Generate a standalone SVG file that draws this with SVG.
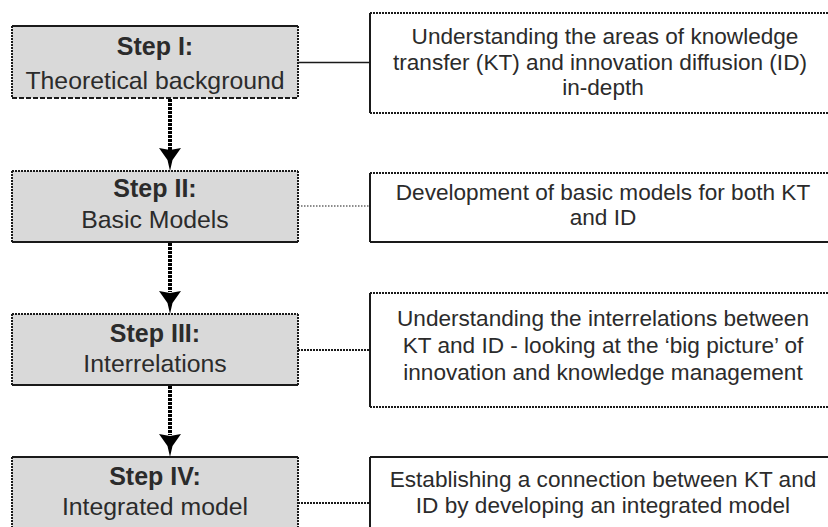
<svg xmlns="http://www.w3.org/2000/svg" width="828" height="527" viewBox="0 0 828 527">
  <defs>
    <style>
      .step { fill:#d9d9d9; }
      .desc { fill:#ffffff; }
      .solid { stroke:#1a1a1a; stroke-width:2; fill:none; }
      .dot { stroke:#1a1a1a; stroke-width:2; stroke-dasharray:2 1; fill:none; }
      .dash { stroke:#1a1a1a; stroke-width:2; stroke-dasharray:5 2; fill:none; }
      .thin { stroke:#1a1a1a; stroke-width:1.5; fill:none; }
      .thindot { stroke:#1a1a1a; stroke-width:1.2; stroke-dasharray:1.5 1.5; fill:none; }
      .thickdot { stroke:#1a1a1a; stroke-width:2; stroke-dasharray:2 1; fill:none; }
      .arrow { stroke:#000; stroke-width:4; stroke-dasharray:3 1; fill:none; }
      .head { fill:#000; }
      text { font-family:"Liberation Sans", Arial, sans-serif; fill:#2b2b2b; text-anchor:middle; }
      .h { font-weight:bold; font-size:25px; }
      .s { font-size:24.8px; }
      .r { font-size:22.6px; }
    </style>
  </defs>

  <g id="connectors">
    <line class="thin" x1="298" y1="62.5" x2="370" y2="62.5"/>
    <line class="thindot" x1="298" y1="206" x2="370" y2="206"/>
    <line class="thickdot" x1="298" y1="350" x2="370" y2="350"/>
    <line class="thickdot" x1="298" y1="503" x2="370" y2="503"/>
    <line class="arrow" x1="170" y1="99" x2="170" y2="150"/>
    <line class="arrow" x1="170" y1="243" x2="170" y2="292"/>
    <line class="arrow" x1="170" y1="386" x2="170" y2="435"/>
    <path class="head" d="M159,148 L170,150 L181,148 L172.5,160 L170,171 L167.5,160 Z"/>
    <path class="head" d="M159,291 L170,293 L181,291 L172.5,303 L170,314 L167.5,303 Z"/>
    <path class="head" d="M159,434 L170,436 L181,434 L172.5,446 L170,457 L167.5,446 Z"/>
  </g>

  <g id="step1">
    <rect class="step" x="12" y="26" width="286" height="72"/>
    <line class="solid" x1="12" y1="26" x2="298" y2="26"/>
    <line class="dot" x1="12" y1="26" x2="12" y2="98"/>
    <line class="dot" x1="298" y1="26" x2="298" y2="98"/>
    <line class="dash" x1="12" y1="98" x2="298" y2="98"/>
    <text class="h" x="155" y="55">Step I:</text>
    <text class="s" x="155" y="89">Theoretical background</text>
  </g>

  <g id="step2">
    <rect class="step" x="12" y="171" width="286" height="71"/>
    <line class="dot" x1="12" y1="171" x2="298" y2="171"/>
    <line class="dot" x1="12" y1="171" x2="12" y2="242"/>
    <line class="dot" x1="298" y1="171" x2="298" y2="242"/>
    <line class="solid" x1="12" y1="242" x2="298" y2="242"/>
    <text class="h" x="155" y="197">Step II:</text>
    <text class="s" x="155" y="228">Basic Models</text>
  </g>

  <g id="step3">
    <rect class="step" x="12" y="314" width="286" height="71"/>
    <line class="dot" x1="12" y1="314" x2="298" y2="314"/>
    <line class="dot" x1="12" y1="314" x2="12" y2="385"/>
    <line class="dot" x1="298" y1="314" x2="298" y2="385"/>
    <line class="solid" x1="12" y1="385" x2="298" y2="385"/>
    <text class="h" x="155" y="342">Step III:</text>
    <text class="s" x="155" y="372">Interrelations</text>
  </g>

  <g id="step4">
    <rect class="step" x="12" y="457" width="286" height="80"/>
    <line class="solid" x1="12" y1="457" x2="298" y2="457"/>
    <line class="dot" x1="12" y1="457" x2="12" y2="537"/>
    <line class="dot" x1="298" y1="457" x2="298" y2="537"/>
    <text class="h" x="155" y="485">Step IV:</text>
    <text class="s" x="155" y="515">Integrated model</text>
  </g>

  <g id="desc1">
    <rect class="desc" x="370" y="13" width="470" height="100"/>
    <line class="dot" x1="370" y1="13" x2="840" y2="13"/>
    <line class="solid" x1="370" y1="13" x2="370" y2="113"/>
    <line class="dot" x1="370" y1="113" x2="840" y2="113"/>
    <text class="r" x="605" y="44">Understanding the areas of knowledge</text>
    <text class="r" x="600" y="70">transfer (KT) and innovation diffusion (ID)</text>
    <text class="r" x="603" y="95">in-depth</text>
  </g>

  <g id="desc2">
    <rect class="desc" x="370" y="173" width="470" height="69"/>
    <line class="dot" x1="370" y1="173" x2="840" y2="173"/>
    <line class="solid" x1="370" y1="173" x2="370" y2="242"/>
    <line class="solid" x1="370" y1="242" x2="840" y2="242"/>
    <text class="r" x="603" y="200">Development of basic models for both KT</text>
    <text class="r" x="603" y="225">and ID</text>
  </g>

  <g id="desc3">
    <rect class="desc" x="370" y="293" width="470" height="114"/>
    <line class="dot" x1="370" y1="293" x2="840" y2="293"/>
    <line class="solid" x1="370" y1="293" x2="370" y2="407"/>
    <line class="dot" x1="370" y1="407" x2="840" y2="407"/>
    <text class="r" x="603" y="326">Understanding the interrelations between</text>
    <text class="r" x="603" y="353">KT and ID - looking at the ‘big picture’ of</text>
    <text class="r" x="603" y="380">innovation and knowledge management</text>
  </g>

  <g id="desc4">
    <rect class="desc" x="370" y="457" width="470" height="80"/>
    <line class="solid" x1="370" y1="457" x2="840" y2="457"/>
    <line class="solid" x1="370" y1="457" x2="370" y2="537"/>
    <text class="r" x="603" y="487">Establishing a connection between KT and</text>
    <text class="r" x="603" y="513">ID by developing an integrated model</text>
  </g>
</svg>
